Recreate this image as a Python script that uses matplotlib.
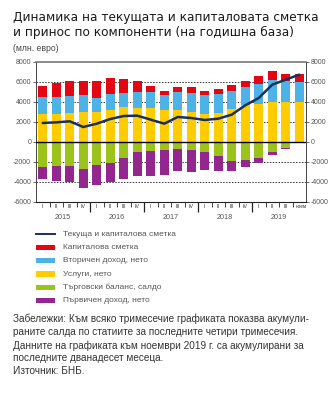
import matplotlib
matplotlib.use("Agg")
import matplotlib.pyplot as plt
import numpy as np
from matplotlib.transforms import blended_transform_factory
from matplotlib.patches import Rectangle
from matplotlib.lines import Line2D

plt.rcParams['font.family'] = ['Liberation Sans', 'DejaVu Sans']

# ---- data (млн. евро) ----
quarters = ["I", "II", "III", "IV"] * 4 + ["I", "II", "III", "ноем"]
years = ["2015", "2016", "2017", "2018", "2019"]
capital = [1100, 1400, 1467, 1400, 1700, 1567, 1400, 1067, 567, 467,
           433, 567, 400, 533, 667, 633, 767, 833, 733, 800]
secondary = [1667, 1733, 1733, 1700, 1400, 1567, 1433, 1633, 1633, 1433,
             1800, 1900, 1933, 1867, 1767, 1767, 1967, 2267, 2100, 2000]
services = [2800, 2800, 2867, 3033, 3033, 3233, 3467, 3367, 3367, 3233,
            3233, 3000, 2800, 2900, 3300, 3733, 3833, 3967, 3967, 4000]
trade = [-2533, -2367, -2367, -2667, -2300, -2067, -1633, -967, -933, -833,
         -733, -767, -1000, -1433, -1867, -1833, -1633, -1000, -600, -60]
primary = [-1133, -1500, -1667, -1933, -2000, -1967, -2100, -2433, -2467, -2433,
           -2200, -2233, -1833, -1467, -1033, -667, -500, -267, -100, -20]
total = [1900, 1967, 2067, 1500, 1833, 2300, 2600, 2633, 2233, 1833,
         2500, 2400, 2200, 2333, 2733, 3667, 4400, 5733, 6233, 6733]

labels = {
    "total": "Текуща и капиталова сметка",
    "capital": "Капиталова сметка",
    "secondary": "Вторичен доход, нето",
    "services": "Услуги, нето",
    "trade": "Търговски баланс, салдо",
    "primary": "Първичен доход, нето",
}

colors = {
    "total": "#1c2f5c",
    "capital": "#e30613",
    "secondary": "#4db3e6",
    "services": "#ffcc00",
    "trade": "#9bc31c",
    "primary": "#93278f",
}

W, H = 332, 396
fig = plt.figure(figsize=(W / 100, H / 100), dpi=100)

def fx(x):
    return x / W

def fy(y):
    return 1 - y / H

ax_l, ax_r, ax_t, ax_b = 36, 306, 62, 202
ax = fig.add_axes([fx(ax_l), fy(ax_b), (ax_r - ax_l) / W, (ax_b - ax_t) / H])

x = np.arange(len(capital))
services = np.array(services, float)
secondary = np.array(secondary, float)
capital = np.array(capital, float)
trade = np.array(trade, float)
primary = np.array(primary, float)

bw = 0.64
ax.bar(x, services, bw, color=colors["services"], zorder=2)
ax.bar(x, secondary, bw, bottom=services, color=colors["secondary"], zorder=2)
ax.bar(x, capital, bw, bottom=services + secondary, color=colors["capital"], zorder=2)
ax.bar(x, trade, bw, color=colors["trade"], zorder=2)
ax.bar(x, primary, bw, bottom=trade, color=colors["primary"], zorder=2)
ax.plot(x, total, color=colors["total"], lw=1.8, zorder=4, solid_capstyle="round")

ax.set_xlim(-0.5, len(x) - 0.5)
ax.set_ylim(-6000, 8000)
yt = np.arange(-6000, 8001, 2000)
ax.set_yticks(yt)
ax.set_yticklabels([str(v) for v in yt])
ax.tick_params(axis="y", which="both", left=True, right=True, labelleft=True,
               labelright=True, labelsize=5, colors="#555555", length=2.5,
               width=0.6, pad=1)
for v in [-4000, -2000, 2000, 4000, 6000]:
    ax.axhline(v, color="#333333", lw=0.7, ls=(0, (1.5, 1.5)), zorder=1)
ax.axhline(0, color="black", lw=1.0, zorder=3)

for s in ["left", "right"]:
    ax.spines[s].set_color("#444444")
    ax.spines[s].set_linewidth(0.7)
ax.spines["top"].set_color("#777777")
ax.spines["top"].set_linewidth(1.2)
ax.spines["bottom"].set_color("#222222")
ax.spines["bottom"].set_linewidth(0.8)

# x ticks: small between quarters, tall at year boundaries
minor = [i + 0.5 for i in range(len(x) - 1) if (i + 1) % 4 != 0]
major = [i + 0.5 for i in range(len(x) - 1) if (i + 1) % 4 == 0]
ax.set_xticks(major)
ax.set_xticks(minor, minor=True)
ax.set_xticklabels([])
ax.tick_params(axis="x", which="major", length=7, width=0.9, color="#222222")
ax.tick_params(axis="x", which="minor", length=3.5, width=0.6, color="#222222")

tr = blended_transform_factory(ax.transData, ax.transAxes)
for i, q in enumerate(quarters):
    ax.text(i + (0.12 if q == "ноем" else 0), -0.012, q, transform=tr, ha="center",
            va="top", fontsize=3.8 if q != "ноем" else 3.3, color="#333333")
for k, yname in enumerate(years):
    ax.text(4 * k + 1.5, -0.085, yname, transform=tr, ha="center", va="top",
            fontsize=5.2, color="#555555")

# title and subtitle
fig.text(fx(13), fy(21), "Динамика на текущата и капиталовата сметка",
         fontsize=8.7, color="#1a1a1a", va="baseline", ha="left",
         family=["DejaVu Sans"])
fig.text(fx(13), fy(36), "и принос по компоненти (на годишна база)",
         fontsize=8.7, color="#1a1a1a", va="baseline", ha="left",
         family=["DejaVu Sans"])
fig.text(fx(13), fy(51), "(млн. евро)", fontsize=6.2, color="#444444",
         va="baseline", ha="left")

# legend
order = ["total", "capital", "secondary", "services", "trade", "primary"]
rows = [234, 247.5, 260.8, 274, 287.3, 300.7]
for key, yy in zip(order, rows):
    if key == "total":
        fig.add_artist(Line2D([fx(36), fx(55)], [fy(yy), fy(yy)],
                              color=colors[key], lw=1.4))
    else:
        fig.add_artist(Rectangle((fx(36), fy(yy + 2.6)), 19 / W, 5.2 / H,
                                 color=colors[key], lw=0))
    fig.text(fx(63), fy(yy), labels[key], fontsize=6, color="#555555",
             va="center", ha="left")

notes = [
    "Забележки: Към всяко тримесечие графиката показва акумули-",
    "раните салда по статиите за последните четири тримесечия.",
    "Данните на графиката към ноември 2019 г. са акумулирани за",
    "последните дванадесет месеца.",
]
for line, yy in zip(notes, [318.3, 332, 345.7, 357.7]):
    fig.text(fx(13), fy(yy), line, fontsize=7.2, color="#333333",
             va="center", ha="left")
fig.text(fx(13), fy(370.7), "Източник: БНБ.", fontsize=7.2, color="#333333",
         va="center", ha="left")

fig.savefig("out.png", dpi=100)
